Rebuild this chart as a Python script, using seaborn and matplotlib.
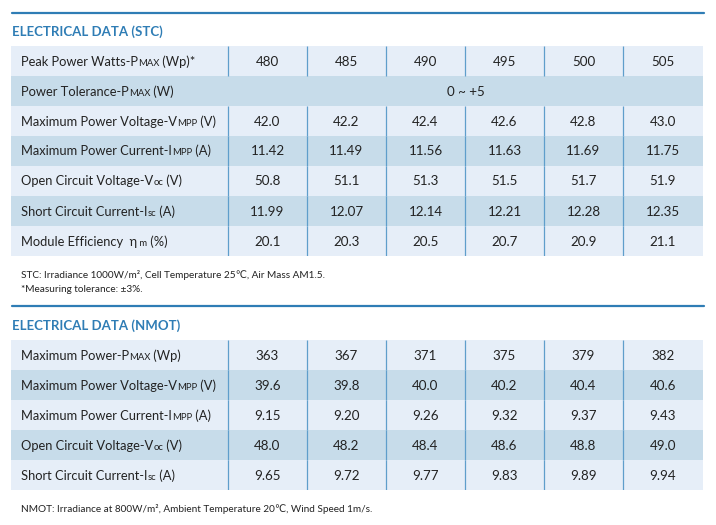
import re
import numpy as np
import matplotlib
matplotlib.use("Agg")
import matplotlib.pyplot as plt
from matplotlib.colors import ListedColormap
from matplotlib.lines import Line2D
import seaborn as sns

# ---- data ----
stc_labels = ['Peak Power Watts-P{MAX} (Wp)*', 'Power Tolerance-P{MAX} (W)',
              'Maximum Power Voltage-V{MPP} (V)', 'Maximum Power Current-I{MPP} (A)',
              'Open Circuit Voltage-V{oc} (V)', 'Short Circuit Current-I{sc} (A)',
              'Module Efficiency  η{ m} (%)']
stc_power = [480, 485, 490, 495, 500, 505]
stc_tolerance = '0 ~ +5'
stc_vmpp = [42.0, 42.2, 42.4, 42.6, 42.8, 43.0]
stc_impp = [11.42, 11.49, 11.56, 11.63, 11.69, 11.75]
stc_voc = [50.8, 51.1, 51.3, 51.5, 51.7, 51.9]
stc_isc = [11.99, 12.07, 12.14, 12.21, 12.28, 12.35]
stc_eff = [20.1, 20.3, 20.5, 20.7, 20.9, 21.1]

nmot_labels = ['Maximum Power-P{MAX} (Wp)', 'Maximum Power Voltage-V{MPP} (V)',
               'Maximum Power Current-I{MPP} (A)', 'Open Circuit Voltage-V{oc} (V)',
               'Short Circuit Current-I{sc} (A)']
nmot_power = [363, 367, 371, 375, 379, 382]
nmot_vmpp = [39.6, 39.8, 40.0, 40.2, 40.4, 40.6]
nmot_impp = [9.15, 9.20, 9.26, 9.32, 9.37, 9.43]
nmot_voc = [48.0, 48.2, 48.4, 48.6, 48.8, 49.0]
nmot_isc = [9.65, 9.72, 9.77, 9.83, 9.89, 9.94]

stc_note = ['STC: Irradiance 1000W/m², Cell Temperature 25℃, Air Mass AM1.5.',
            '*Measuring tolerance: ±3%.']
nmot_note = 'NMOT: Irradiance at 800W/m², Ambient Temperature 20℃, Wind Speed 1m/s.'

# ---- style ----
W, H = 716, 525
BLUE = '#2f7db5'
LINE = '#5f9ecb'
LIGHT = '#e6eef8'
DARK = '#c7dcea'
TXT = '#222222'
FS_LAB = 9.3
FS_VAL = 9.6
FS_NOTE = 7.2

sns.set_theme(style='white')
plt.rcParams['font.family'] = ['Lato', 'DejaVu Sans']

fig = plt.figure(figsize=(W / 100, H / 100), dpi=100)
renderer = fig.canvas.get_renderer()


def fx(px):
    return px / W


def fy(py):
    return 1 - py / H


def rich_text(x, y, spec, size=FS_LAB, small=6.8):
    # {..} parts are drawn in a smaller size on the same baseline
    cur = fx(x)
    for part in re.split(r'(\{[^}]*\})', spec):
        if not part:
            continue
        if part.startswith('{'):
            t = fig.text(cur, fy(y), part[1:-1], fontsize=small, color=TXT, va='baseline')
        else:
            t = fig.text(cur, fy(y), part, fontsize=size, color=TXT, va='baseline')
        cur = t.get_window_extent(renderer).x1 / fig.bbox.width


col_edges = [228, 307, 386, 465, 544, 623, 703]
x0, x1 = 11, 703
row_h = 30


def draw_table(top, labels, rows, merged=None):
    n = len(labels)
    ax = fig.add_axes([fx(x0), fy(top + n * row_h), fx(x1) - fx(x0), n * row_h / H])
    shade = np.array([i % 2 for i in range(n)]).reshape(-1, 1)
    sns.heatmap(shade, cmap=ListedColormap([LIGHT, DARK]), vmin=0, vmax=1,
                cbar=False, xticklabels=False, yticklabels=False, ax=ax)
    xs = [(c - x0) / (x1 - x0) for c in col_edges[:-1]]
    for i in range(n):
        if merged is not None and i == merged[0]:
            continue
        ax.vlines(xs, i, i + 1, color=LINE, lw=0.9)
    ax.set_axis_off()

    for i, lab in enumerate(labels):
        base = top + i * row_h + row_h / 2 + 4.5
        rich_text(21, base, lab)
        if merged is not None and i == merged[0]:
            fig.text(fx((col_edges[0] + col_edges[-1]) / 2), fy(base), merged[1],
                     fontsize=FS_VAL, color=TXT, ha='center', va='baseline')
            continue
        vals, fmt = rows[i]
        for j, v in enumerate(vals):
            cx = (col_edges[j] + col_edges[j + 1]) / 2
            fig.text(fx(cx), fy(base), fmt.format(v), fontsize=FS_VAL, color=TXT,
                     ha='center', va='baseline')


def rule(y):
    fig.add_artist(Line2D([fx(12), fx(704)], [fy(y), fy(y)], color=BLUE, lw=1.6))


# ---- STC ----
rule(13)
fig.text(fx(12), fy(35.5), 'ELECTRICAL DATA (STC)', fontsize=9.5, fontweight='bold',
         color=BLUE, va='baseline')
stc_rows = [(stc_power, '{:d}'), None, (stc_vmpp, '{:.1f}'), (stc_impp, '{:.2f}'),
            (stc_voc, '{:.1f}'), (stc_isc, '{:.2f}'), (stc_eff, '{:.1f}')]
draw_table(46, stc_labels, stc_rows, merged=(1, stc_tolerance))
fig.text(fx(21), fy(277.5), stc_note[0], fontsize=FS_NOTE, color=TXT, va='baseline')
fig.text(fx(21), fy(292.5), stc_note[1], fontsize=FS_NOTE, color=TXT, va='baseline')

# ---- NMOT ----
rule(306)
fig.text(fx(12), fy(329.5), 'ELECTRICAL DATA (NMOT)', fontsize=9.5, fontweight='bold',
         color=BLUE, va='baseline')
nmot_rows = [(nmot_power, '{:d}'), (nmot_vmpp, '{:.1f}'), (nmot_impp, '{:.2f}'),
             (nmot_voc, '{:.1f}'), (nmot_isc, '{:.2f}')]
draw_table(340, nmot_labels, nmot_rows)
fig.text(fx(21), fy(511.5), nmot_note, fontsize=FS_NOTE, color=TXT, va='baseline')

fig.savefig('out.png', dpi=100)
